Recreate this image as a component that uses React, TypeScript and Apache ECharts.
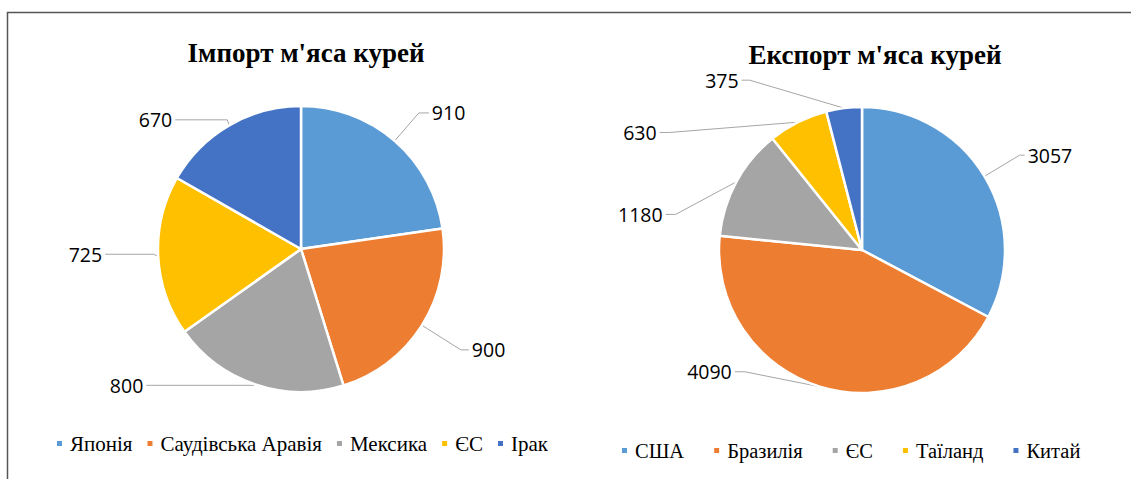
import React, { useEffect, useRef } from "react";
import * as echarts from "echarts";

const importCountries = ["Японія", "Саудівська Аравія", "Мексика", "ЄС", "Ірак"];
const importValues = [910, 900, 800, 725, 670];
const exportCountries = ["США", "Бразилія", "ЄС", "Таїланд", "Китай"];
const exportValues = [3057, 4090, 1180, 630, 375];
const importTitle = "Імпорт м'яса курей";
const exportTitle = "Експорт м'яса курей";
const colors = ["#5B9BD5", "#ED7D31", "#A5A5A5", "#FFC000", "#4472C4"];

// label line lengths and label shifts (style only)
const importLines = [
  [37, 10],
  [46, 8],
  [3, 108],
  [5, 48],
  [4, 52],
];
const importLabelDy = [0, 0, -2, -2, -2];
const importTail = [0, 0, 0, 0, 0];
const exportLines = [
  [41, 5],
  [3, 85],
  [3, 68],
  [3, 137],
  [3, 102],
];
const exportLabelDy = [0, -18, 34, 13, -25];
const exportTail = [0, 10, 10, 10, 8];

function makeLayout(dys: number[], tails: number[]) {
  return (p: any) => {
    const i = p.dataIndex;
    const dy = dys[i];
    const tail = tails[i];
    const pts = p.labelLinePoints;
    if ((!dy && !tail) || !pts || pts.length < 3) return {};
    const p0 = pts[0];
    const p2 = pts[2];
    const left = p2[0] < p0[0];
    const np2 = [p2[0], p2[1] + dy];
    const np1 = tail ? [p2[0] + (left ? tail : -tail), p2[1] + dy] : [pts[1][0], pts[1][1] + dy];
    return { dy, labelLinePoints: [p0, np1, np2] };
  };
}

export default function App() {
  const ref = useRef<HTMLDivElement>(null);
  useEffect(() => {
    const chart = echarts.init(ref.current!, null, { renderer: "svg" });
    const labelStyle = {
      show: true,
      formatter: "{c}",
      fontFamily: "Open Sans",
      fontSize: 19.5,
      color: "#000",
      distanceToLabelLine: 3,
    };
    const mk = (names: string[], vals: number[], lines: number[][]) =>
      names.map((n, i) => ({
        name: n,
        value: vals[i],
        itemStyle: { color: colors[i] },
        labelLine: { length: lines[i][0], length2: lines[i][1] },
      }));
    const legendData = (names: string[]) =>
      names.map((n, i) => ({ name: n, itemStyle: { color: colors[i] } }));
    const legendText = (size: number) => ({
      fontFamily: "Liberation Serif",
      fontSize: size,
      color: "#000",
      padding: [0, 0, 0, 2],
    });
    chart.setOption({
      animation: false,
      title: [
        {
          text: importTitle,
          left: 301,
          top: 34,
          textAlign: "center",
          textStyle: { fontFamily: "Liberation Serif", fontWeight: "bold", fontSize: 27, color: "#000" },
        },
        {
          text: exportTitle,
          left: 870,
          top: 36,
          textAlign: "center",
          textStyle: { fontFamily: "Liberation Serif", fontWeight: "bold", fontSize: 27, color: "#000" },
        },
      ],
      legend: [
        {
          data: legendData(importCountries),
          left: 55,
          top: 433,
          padding: 0,
          icon: "rect",
          itemWidth: 7,
          itemHeight: 7,
          itemGap: 13,
          selectedMode: false,
          textStyle: legendText(21),
        },
        {
          data: legendData(exportCountries),
          left: 620,
          top: 440,
          padding: 0,
          icon: "rect",
          itemWidth: 7,
          itemHeight: 7,
          itemGap: 28,
          selectedMode: false,
          textStyle: legendText(20.5),
        },
      ],
      graphic: [
        { type: "line", shape: { x1: 7, y1: 12.5, x2: 1131, y2: 12.5 }, style: { stroke: "#555", lineWidth: 1.5 } },
        { type: "line", shape: { x1: 7.5, y1: 12, x2: 7.5, y2: 479 }, style: { stroke: "#555", lineWidth: 1.5 } },
      ],
      series: [
        {
          type: "pie",
          center: [301, 249],
          radius: 143,
          startAngle: 90,
          clockwise: true,
          avoidLabelOverlap: false,
          itemStyle: { borderColor: "#fff", borderWidth: 2.5 },
          label: labelStyle,
          labelLine: { show: true, lineStyle: { color: "#A6A6A6", width: 1 } },
          labelLayout: makeLayout(importLabelDy, importTail),
          data: mk(importCountries, importValues, importLines),
        },
        {
          type: "pie",
          center: [862, 250],
          radius: 143,
          startAngle: 90,
          clockwise: true,
          avoidLabelOverlap: false,
          itemStyle: { borderColor: "#fff", borderWidth: 2.5 },
          label: labelStyle,
          labelLine: { show: true, lineStyle: { color: "#A6A6A6", width: 1 } },
          labelLayout: makeLayout(exportLabelDy, exportTail),
          data: mk(exportCountries, exportValues, exportLines),
        },
      ],
    });
    return () => chart.dispose();
  }, []);
  return (
    <div
      ref={ref}
      style={{ position: "fixed", left: 0, top: 0, width: 1131, height: 479, background: "#fff" }}
    />
  );
}
